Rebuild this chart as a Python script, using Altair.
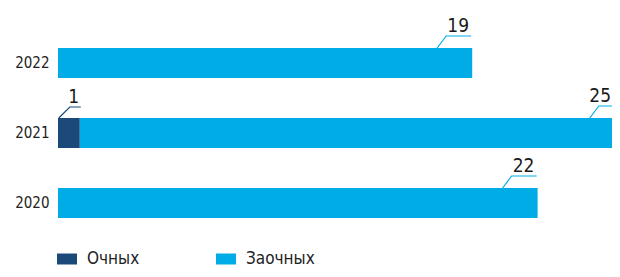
import altair as alt
import pandas as pd

years = ["2022", "2021", "2020"]
series = ["Очных", "Заочных"]
ochnyh = [0, 1, 0]
zaochnyh = [19, 25, 22]
colors = ["#1b4a7a", "#00ace6"]

rows = []
for i, yr in enumerate(years):
    start = 0
    for s, vals in zip(series, [ochnyh, zaochnyh]):
        v = vals[i]
        rows.append(dict(year=yr, series=s, value=v, start=start, end=start + v))
        start += v
df = pd.DataFrame(rows)

FONT = "Liberation Sans Narrow, DejaVu Sans Condensed, Roboto, sans-serif"

PLOT_W = 554
PX_PER_UNIT = 21.8
XMAX = PLOT_W / PX_PER_UNIT
xscale = alt.Scale(domain=[0, XMAX], nice=False, zero=True)
yenc = alt.Y(
    "year:N",
    sort=years,
    scale=alt.Scale(paddingInner=40 / 70, paddingOuter=20 / 70),
    axis=alt.Axis(
        title=None, domain=False, ticks=False, labelPadding=9,
        labelFont=FONT, labelFontSize=15, labelColor="#222222",
    ),
)

base = alt.Chart(df)

bars = base.transform_filter("datum.value > 0").mark_bar().encode(
    x=alt.X("start:Q", scale=xscale, axis=None),
    x2="end:Q",
    y=yenc,
    color=alt.Color(
        "series:N",
        scale=alt.Scale(domain=series, range=colors),
        legend=alt.Legend(
            orient="none", legendX=-1, legendY=221, direction="horizontal",
            title=None, symbolType="M-1,-0.55H1V0.55H-1Z", symbolSize=400,
            symbolStrokeWidth=0, symbolOpacity=1, labelFont=FONT,
            labelFontSize=17, labelOffset=10, columnPadding=76,
            labelColor="#222222",
        ),
    ),
)

z = base.transform_filter("datum.series == 'Заочных' && datum.value > 0")
o = base.transform_filter("datum.series == 'Очных' && datum.value > 0")

z_lead = z.mark_point(
    shape="M-35,-15L-26,-27L-1,-27", size=4, filled=False,
    stroke=colors[1], strokeWidth=1.2, opacity=1,
).encode(x=alt.X("end:Q", scale=xscale), y=alt.Y("year:N", sort=years))

o_lead = o.mark_point(
    shape="M-21,-15L-10,-26L1,-26", size=4, filled=False,
    stroke=colors[0], strokeWidth=1.2, opacity=1,
).encode(x=alt.X("end:Q", scale=xscale), y=alt.Y("year:N", sort=years))

# keep the label of a bar running past the right edge inside the view
z_text = z.transform_calculate(
    lx=f"min(datum.end, {XMAX + 0.1})"
).mark_text(
    font=FONT, fontSize=19, dx=-14, dy=-31, baseline="alphabetic",
    align="center", color="#1a1a1a",
).encode(x=alt.X("lx:Q", scale=xscale), y=alt.Y("year:N", sort=years), text="value:Q")

o_text = o.mark_text(
    font=FONT, fontSize=19, dx=-6, dy=-30, baseline="alphabetic",
    align="center", color="#1a1a1a",
).encode(x=alt.X("end:Q", scale=xscale), y=alt.Y("year:N", sort=years), text="value:Q")

chart = alt.layer(bars, z_lead, o_lead, z_text, o_text).properties(
    width=PLOT_W, height=210,
    autosize=alt.AutoSizeParams(type="none"),
    padding={"left": 50, "top": 20, "right": 0, "bottom": 31},
).configure_view(stroke=None)

chart.save("out.html", embed_options={"renderer": "svg", "actions": False})
